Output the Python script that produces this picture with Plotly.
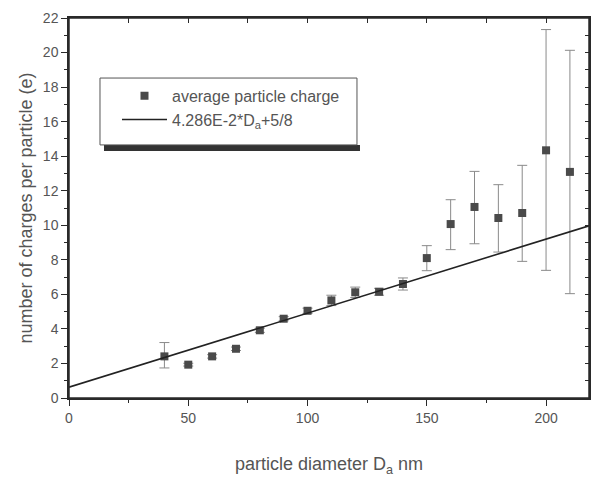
import plotly.graph_objects as go

# Data
diameter = [40, 50, 60, 70, 80, 90, 100, 110, 120, 130, 140, 150, 160, 170, 180, 190, 200, 210]
charge = [2.41, 1.93, 2.41, 2.85, 3.92, 4.59, 5.05, 5.65, 6.12, 6.15, 6.6, 8.1, 10.07, 11.06, 10.42, 10.71, 14.34, 13.09]
err_plus = [0.8, 0.08, 0.1, 0.1, 0.12, 0.12, 0.15, 0.3, 0.3, 0.2, 0.35, 0.72, 1.41, 2.06, 1.93, 2.76, 6.99, 7.04]
err_minus = [0.67, 0.08, 0.1, 0.1, 0.12, 0.12, 0.15, 0.3, 0.3, 0.2, 0.35, 0.73, 1.48, 2.13, 1.97, 2.8, 6.95, 7.05]

fit_x = [0, 218]
fit_y = [0.625, 9.97]

x_ticks = [0, 50, 100, 150, 200]
y_ticks = [0, 2, 4, 6, 8, 10, 12, 14, 16, 18, 20, 22]

FONT = "Liberation Sans, Arial, sans-serif"
TXT = "#555555"
AX = "#2a2a2a"

fig = go.Figure()
fig.add_trace(go.Scatter(
    x=diameter, y=charge, mode="markers",
    name="average particle charge",
    legendgroup="a",
    marker=dict(symbol="square", size=8, color="#4a4a4a"),
    error_y=dict(type="data", symmetric=False, array=err_plus, arrayminus=err_minus,
                 color="#8a8a8a", thickness=1, width=5),
))
fig.add_trace(go.Scatter(
    x=fit_x, y=fit_y, mode="lines",
    name="4.286E-2*D<sub>a</sub>+5/8",
    legendgroup="b",
    line=dict(color="#222222", width=1.6),
))
# invisible copy of the fit on the top/right axes so those frame axes get drawn
fig.add_trace(go.Scatter(x=fit_x, y=fit_y, xaxis="x2", yaxis="y2", mode="lines",
                         line=dict(color="rgba(0,0,0,0)", width=0),
                         showlegend=False, hoverinfo="skip"))

axis_common = dict(showgrid=False, zeroline=False, showline=True, linecolor=AX, linewidth=1.5,
                   tickcolor=AX, automargin=False,
                   tickfont=dict(family=FONT, size=14, color=TXT))

fig.update_layout(
    width=591, height=477,
    margin=dict(l=69, r=2, t=18, b=79),
    paper_bgcolor="white", plot_bgcolor="white",
    font=dict(family=FONT, color=TXT),
    xaxis=dict(range=[0, 218], tickvals=x_ticks, ticks="outside", ticklen=6,
               minor=dict(dtick=25, tick0=0, ticks="outside", ticklen=3, tickcolor=AX),
               title=dict(text="particle diameter D<sub>a</sub> nm", font=dict(family=FONT, size=18, color=TXT), standoff=33),
               **axis_common),
    yaxis=dict(range=[0, 22], tickvals=y_ticks, ticks="outside", ticklen=6,
               minor=dict(dtick=1, tick0=0, ticks="outside", ticklen=3, tickcolor=AX),
               title=dict(text="number of charges per particle (e)", font=dict(family=FONT, size=18, color=TXT), standoff=6),
               **axis_common),
    xaxis2=dict(overlaying="x", side="top", range=[0, 218], dtick=25, tick0=0,
                ticks="inside", ticklen=5, showticklabels=False, showgrid=False, zeroline=False, automargin=False,
                showline=True, linecolor=AX, linewidth=1.5, tickcolor=AX),
    yaxis2=dict(overlaying="y", side="right", range=[0, 22], dtick=1, tick0=0,
                ticks="inside", ticklen=4, showticklabels=False, showgrid=False, zeroline=False, automargin=False,
                showline=True, linecolor=AX, linewidth=1.5, tickcolor=AX),
    showlegend=True,
    legend=dict(x=0.0923, y=0.84, xanchor="left", yanchor="top",
                bgcolor="rgba(0,0,0,0)", borderwidth=0,
                font=dict(family=FONT, size=16, color=TXT),
                itemwidth=45, traceorder="grouped", tracegroupgap=0),
    shapes=[
        dict(type="rect", xref="paper", yref="paper", x0=0.0673, x1=0.5596, y0=0.650, y1=0.666,
             fillcolor="#333333", line=dict(width=0), layer="below"),
        dict(type="rect", xref="paper", yref="paper", x0=0.0596, x1=0.5538, y0=0.666, y1=0.842,
             fillcolor="white", line=dict(color="#555555", width=1), layer="below"),
        dict(type="rect", xref="paper", yref="paper", x0=0, x1=1, y0=0, y1=1,
             fillcolor="rgba(0,0,0,0)", line=dict(color=AX, width=1.5), layer="above"),
    ],
)

fig.write_html("out.html", config={"displayModeBar": False},
               post_script="document.body.style.margin='0';document.body.style.overflow='hidden';")
